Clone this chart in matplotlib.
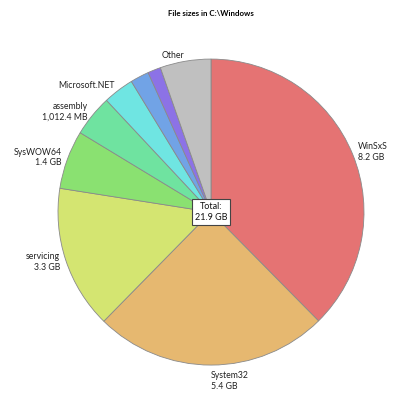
import matplotlib.pyplot as plt

folders = ["WinSxS", "System32", "servicing", "SysWOW64", "assembly",
           "Microsoft.NET", "", "", "Other"]
sizes_gb = [8.2, 5.4, 3.3, 1.35, 0.95, 0.71, 0.43, 0.30, 1.17]
size_text = ["8.2 GB", "5.4 GB", "3.3 GB", "1.4 GB", "1,012.4 MB", "", "", "", ""]
colors = ["#E57373", "#E6B870", "#D4E571", "#8AE171", "#6FE3A0",
          "#6FE5E2", "#71A3E6", "#8C72E6", "#C0C0C0"]
total_text = "Total:\n21.9 GB"

plt.rcParams['font.family'] = ['Lato', 'DejaVu Sans']

labels = []
for name, s in zip(folders, size_text):
    labels.append(name + ("\n" + s if s else ""))

fig = plt.figure(figsize=(4.0, 3.99), dpi=100)
ax = fig.add_axes([0.145, 0.085, 0.765, 0.767])
wedges, texts = ax.pie(sizes_gb, labels=labels, colors=colors, startangle=90,
                       counterclock=False, labeldistance=1.04,
                       wedgeprops=dict(edgecolor="#8a8a8a", linewidth=0.6),
                       textprops=dict(fontsize=6.3, color="#222222", linespacing=1.25))
# bottom label sits under the pie
texts[1].set_va("top")
texts[1].set_ha("left")

ax.set_xlim(-1, 1)
ax.set_ylim(-1, 1)
ax.set_aspect("equal")

ax.text(0, 0, total_text, ha="center", va="center", fontsize=6.5, color="#111111",
        linespacing=1.2,
        bbox=dict(boxstyle="square,pad=0.35", facecolor="white", edgecolor="#444444", linewidth=0.8))

pos = ax.get_position()
fig.suptitle("File sizes in C:\\Windows", fontsize=5.7, fontweight="bold",
             x=(pos.x0 + pos.x1) / 2, y=0.975)
fig.savefig("out.png", dpi=100)
